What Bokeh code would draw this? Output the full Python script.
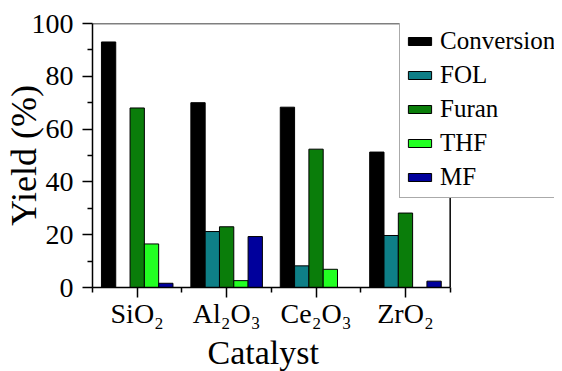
import numpy as np
from bokeh.plotting import figure
from bokeh.models import ColumnDataSource, FixedTicker, Legend, LegendItem, Range1d, Title
from bokeh.embed import file_html
from bokeh.resources import INLINE

categories = ["SiO₂", "Al₂O₃", "Ce₂O₃", "ZrO₂"]
series = ["Conversion", "FOL", "Furan", "THF", "MF"]
conversion = [93, 70, 68.3, 51.3]
fol = [0, 21.2, 8.2, 19.7]
furan = [68, 23, 52.4, 28.2]
thf = [16.5, 2.6, 6.9, 0]
mf = [1.6, 19.3, 0, 2.4]
colors = ["#000000", "#0e7f87", "#0a7d0a", "#22ff22", "#00009c"]
x_title = "Catalyst"
y_title = "Yield (%)"

values = [conversion, fol, furan, thf, mf]
xpos = np.arange(1, len(categories) + 1)
nser = len(series)
bw = 0.16
offsets = (np.arange(nser) - (nser - 1) / 2) * bw

FONT = "Liberation Serif"
W, H = 554, 371
LEFT, TOP = 89, 23
FRAME_W = 360  # px for the 4 categories
x0 = 0.5
x1 = len(categories) + 0.5
# frame extends to right edge of the figure so the legend is not clipped
x_end = x0 + (x1 - x0) * (W - LEFT) / FRAME_W

p = figure(width=W, height=H, output_backend="svg", toolbar_location=None,
           x_range=Range1d(x0, x_end), y_range=Range1d(0, 100),
           min_border_left=LEFT, min_border_right=0, min_border_top=TOP, min_border_bottom=84)
p.background_fill_color = "white"
p.border_fill_color = "white"
p.outline_line_color = None
p.grid.visible = False

items = []
for i, (name, vals, col) in enumerate(zip(series, values, colors)):
    src = ColumnDataSource(dict(x=xpos + offsets[i], top=vals))
    r = p.vbar(x="x", top="top", bottom=0, width=bw, source=src,
               fill_color=col, line_color="black", line_width=1)
    items.append(LegendItem(label=name, renderers=[r]))

# box: top border and right border
p.segment(x0=[x0, x1], y0=[100, 0], x1=[x1, x1], y1=[100, 100],
          line_color="black", line_width=1.5)

legend = Legend(items=items, location=(307, 89), label_text_font=FONT,
                label_text_font_size="25px", label_text_color="black",
                glyph_width=29, glyph_height=10,
                label_standoff=6, label_height=30, spacing=4, padding=5, margin=0,
                border_line_color="#555555", border_line_width=1,
                background_fill_color="white", background_fill_alpha=1.0)
p.add_layout(legend, "center")

# y axis
p.yaxis.ticker = FixedTicker(ticks=[0, 20, 40, 60, 80, 100], minor_ticks=[10, 30, 50, 70, 90])
p.yaxis.axis_label = y_title
p.yaxis.axis_label_text_font = FONT
p.yaxis.axis_label_text_font_size = "36px"
p.yaxis.axis_label_text_font_style = "normal"
p.yaxis.axis_label_text_color = "black"
p.yaxis.axis_label_standoff = -15
p.yaxis.major_label_text_font = FONT
p.yaxis.major_label_text_font_size = "28px"
p.yaxis.major_label_text_color = "black"
p.yaxis.major_label_standoff = 9
p.yaxis.major_tick_out = 10
p.yaxis.major_tick_in = 0
p.yaxis.minor_tick_out = 5
p.yaxis.minor_tick_in = 0
p.yaxis.axis_line_color = "black"
p.yaxis.axis_line_width = 1.5
p.yaxis.major_tick_line_width = 1.5
p.yaxis.minor_tick_line_width = 1.5

# x axis
p.xaxis.bounds = (x0, x1)
p.xaxis.ticker = FixedTicker(ticks=list(xpos), minor_ticks=list(np.arange(x0, x1 + 0.01, 1.0)))
p.xaxis.major_label_overrides = {int(x): c for x, c in zip(xpos, categories)}
p.xaxis.major_label_text_font = FONT
p.xaxis.major_label_text_font_size = "28px"
p.xaxis.major_label_text_color = "black"
p.xaxis.major_label_standoff = 0
p.xaxis.major_tick_out = 10
p.xaxis.major_tick_in = 0
p.xaxis.minor_tick_out = 5
p.xaxis.minor_tick_in = 0
p.xaxis.axis_line_color = "black"
p.xaxis.axis_line_width = 1.5
p.xaxis.major_tick_line_width = 1.5
p.xaxis.minor_tick_line_width = 1.5

# x-axis title centred under the 4 categories (not the extended frame)
xt = Title(text=x_title, align="left", offset=115, text_font=FONT,
           text_font_size="34px", text_font_style="normal", text_color="black",
           standoff=0)
p.add_layout(xt, "below")

open("out.html", "w").write(file_html(p, INLINE))
